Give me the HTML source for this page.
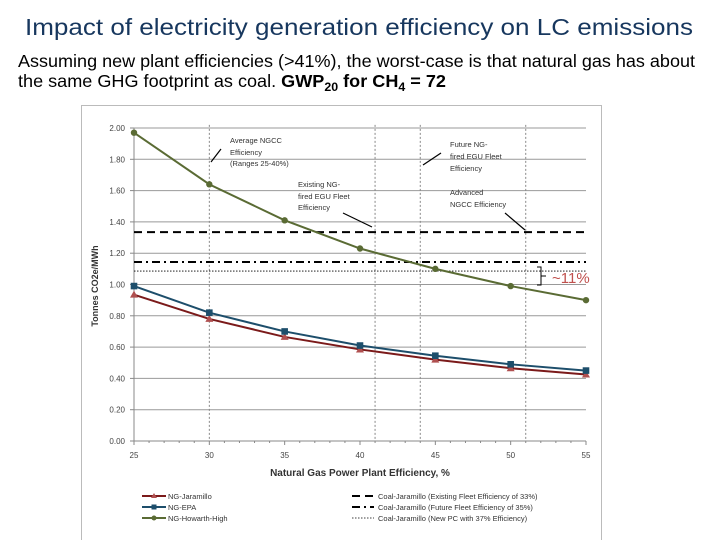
<!DOCTYPE html>
<html><head><meta charset="utf-8"><style>body{margin:0;background:#fff}svg{display:block}</style></head>
<body>
<svg id="c" width="720" height="540" xmlns="http://www.w3.org/2000/svg" font-family="Liberation Sans, sans-serif">
<text x="25" y="35" font-size="23" fill="#17375e" textLength="668" lengthAdjust="spacingAndGlyphs">Impact of electricity generation efficiency on LC emissions</text>
<text x="18" y="67" font-size="17.5" fill="#000" textLength="677" lengthAdjust="spacingAndGlyphs">Assuming new plant efficiencies (&gt;41%), the worst-case is that natural gas has about</text>
<text x="18" y="87" font-size="17.5" fill="#000" textLength="428" lengthAdjust="spacingAndGlyphs">the same GHG footprint as coal. <tspan font-weight="bold">GWP<tspan font-size="12" dy="4">20</tspan><tspan dy="-4"> for CH</tspan><tspan font-size="12" dy="4">4</tspan><tspan dy="-4"> = 72</tspan></tspan></text>
<rect x="81.5" y="105.5" width="520" height="440" fill="none" stroke="#bbb"/>
<g id="plot"></g>
</svg>
<script>
const xCats=[25,30,35,40,45,50,55];
const yTicks=[0,0.2,0.4,0.6,0.8,1.0,1.2,1.4,1.6,1.8,2.0];
const howarth=[1.97,1.64,1.41,1.23,1.10,0.99,0.90];
const epa=[0.99,0.82,0.70,0.61,0.545,0.49,0.45];
const jaramillo=[0.935,0.78,0.665,0.585,0.52,0.465,0.425];
const vLines=[30,41,44,51];
const coalExisting=1.335, coalFuture=1.144, coalNewPC=1.086;
const X=v=>134+(v-25)*(586-134)/30;
const Y=v=>441-v*156.5;
const g=document.getElementById('plot');
const NS='http://www.w3.org/2000/svg';
function mk(t,a,name){const e=document.createElementNS(NS,t);for(const k in a)e.setAttribute(k,a[k]);


g.appendChild(e);return e;}
yTicks.forEach(v=>{
 if(v>0)mk('line',{x1:X(25),x2:X(55),y1:Y(v),y2:Y(v),stroke:'#999','stroke-width':1},'gridline');
 mk('line',{x1:X(25)-4,x2:X(25),y1:Y(v),y2:Y(v),stroke:'#888'},'y-tick');
 const t=mk('text',{x:125,y:Y(v)+3,'font-size':8,'text-anchor':'end',fill:'#444'},'y-tick-label');t.textContent=v.toFixed(2);
});
mk('line',{x1:X(25),x2:X(25),y1:Y(2),y2:Y(0),stroke:'#888'},'y-axis');
mk('line',{x1:X(25),x2:X(55),y1:Y(0),y2:Y(0),stroke:'#888'},'x-axis');
for(let v=25;v<=55;v++)mk('line',{x1:X(v),x2:X(v),y1:Y(0),y2:Y(0)+(v%5?2:4),stroke:'#888'},'x-tick');
xCats.forEach(v=>{const t=mk('text',{x:X(v),y:458,'font-size':8,'text-anchor':'middle',fill:'#444'},'x-tick-label');t.textContent=v;});
vLines.forEach(v=>mk('line',{x1:X(v),x2:X(v),y1:Y(2.02),y2:Y(0),stroke:'#888','stroke-dasharray':'2,2'},'efficiency-marker-line'));
mk('line',{x1:X(25),x2:X(55),y1:Y(coalExisting),y2:Y(coalExisting),stroke:'#000','stroke-width':2,'stroke-dasharray':'8,5'},'coal-existing-line');
mk('line',{x1:X(25),x2:X(55),y1:Y(coalFuture),y2:Y(coalFuture),stroke:'#000','stroke-width':2,'stroke-dasharray':'8,4,2,4'},'coal-future-line');
mk('line',{x1:X(25),x2:X(55),y1:Y(coalNewPC),y2:Y(coalNewPC),stroke:'#000','stroke-width':0.8,'stroke-dasharray':'1.5,1.5'},'coal-newpc-line');
function series(d,col,shape,name){
 mk('polyline',{points:d.map((v,i)=>X(xCats[i])+','+Y(v)).join(' '),fill:'none',stroke:col,'stroke-width':2},name+'-line');
 d.forEach((v,i)=>{const x=X(xCats[i]),y=Y(v);
  if(shape=='c')mk('circle',{cx:x,cy:y,r:3.2,fill:col},name+'-point');
  else if(shape=='s')mk('rect',{x:x-3.3,y:y-3.3,width:6.6,height:6.6,fill:col},name+'-point');
  else mk('polygon',{points:`${x},${y-4} ${x-4},${y+3} ${x+4},${y+3}`,fill:'#b05050'},name+'-point');});
}
series(jaramillo,'#7b1a1a','t','ng-jaramillo');
series(epa,'#1d4e6b','s','ng-epa');
series(howarth,'#5a6b34','c','ng-howarth-high');
function txt(x,y,s,name,opts){const t=mk('text',Object.assign({x:x,y:y,'font-size':7.5,fill:'#333'},opts||{}),name);t.textContent=s;return t;}
txt(230,143,'Average NGCC','annotation');txt(230,155,'Efficiency','annotation');txt(230,166,'(Ranges 25-40%)','annotation');
mk('line',{x1:211,y1:162,x2:221,y2:149,stroke:'#000','stroke-width':1.2},'annotation-arrow');
txt(298,187,'Existing NG-','annotation');txt(298,199,'fired EGU Fleet','annotation');txt(298,210,'Efficiency','annotation');
mk('line',{x1:343,y1:213,x2:372,y2:227,stroke:'#000','stroke-width':1.2},'annotation-arrow');
txt(450,147,'Future NG-','annotation');txt(450,159,'fired EGU Fleet','annotation');txt(450,171,'Efficiency','annotation');
mk('line',{x1:423,y1:165,x2:441,y2:153,stroke:'#000','stroke-width':1.2},'annotation-arrow');
txt(450,195,'Advanced','annotation');txt(450,207,'NGCC Efficiency','annotation');
mk('line',{x1:505,y1:213,x2:525,y2:230,stroke:'#000','stroke-width':1.2},'annotation-arrow');
mk('path',{d:'M537,267 H541 V285 H537 M541,276 H546',fill:'none',stroke:'#000','stroke-width':1},'bracket');
txt(552,283,'~11%','difference-label',{'font-size':15,fill:'#c0504d'});
txt(0,0,'Tonnes CO2e/MWh','y-axis-title',{'font-size':9,'font-weight':'bold',fill:'#333','text-anchor':'middle',transform:'translate(98,286) rotate(-90)'});
txt(360,476,'Natural Gas Power Plant Efficiency, %','x-axis-title',{'font-size':10,'font-weight':'bold','text-anchor':'middle'});
const leg=[['NG-Jaramillo','#7b1a1a','t',496],['NG-EPA','#1d4e6b','s',507],['NG-Howarth-High','#5a6b34','c',518]];
leg.forEach(l=>{mk('line',{x1:142,x2:166,y1:l[3],y2:l[3],stroke:l[1],'stroke-width':2},'legend-line');
 const x=154,y=l[3];
 if(l[2]=='c')mk('circle',{cx:x,cy:y,r:2.5,fill:l[1]},'legend-marker');
 else if(l[2]=='s')mk('rect',{x:x-2.5,y:y-2.5,width:5,height:5,fill:l[1]},'legend-marker');
 else mk('polygon',{points:`${x},${y-3} ${x-3},${y+2} ${x+3},${y+2}`,fill:'#b05050'},'legend-marker');
 txt(168,y+3,l[0],'legend-entry');});
const leg2=[['Coal-Jaramillo (Existing Fleet Efficiency of 33%)','8,5',2,496],['Coal-Jaramillo (Future Fleet Efficiency of 35%)','8,4,2,4',2,507],['Coal-Jaramillo (New PC with 37% Efficiency)','1.5,1.5',0.8,518]];
leg2.forEach(l=>{mk('line',{x1:352,x2:374,y1:l[3],y2:l[3],stroke:'#000','stroke-width':l[2],'stroke-dasharray':l[1]},'legend-line');
 txt(378,l[3]+3,l[0],'legend-entry');});
</script>
</body></html>
